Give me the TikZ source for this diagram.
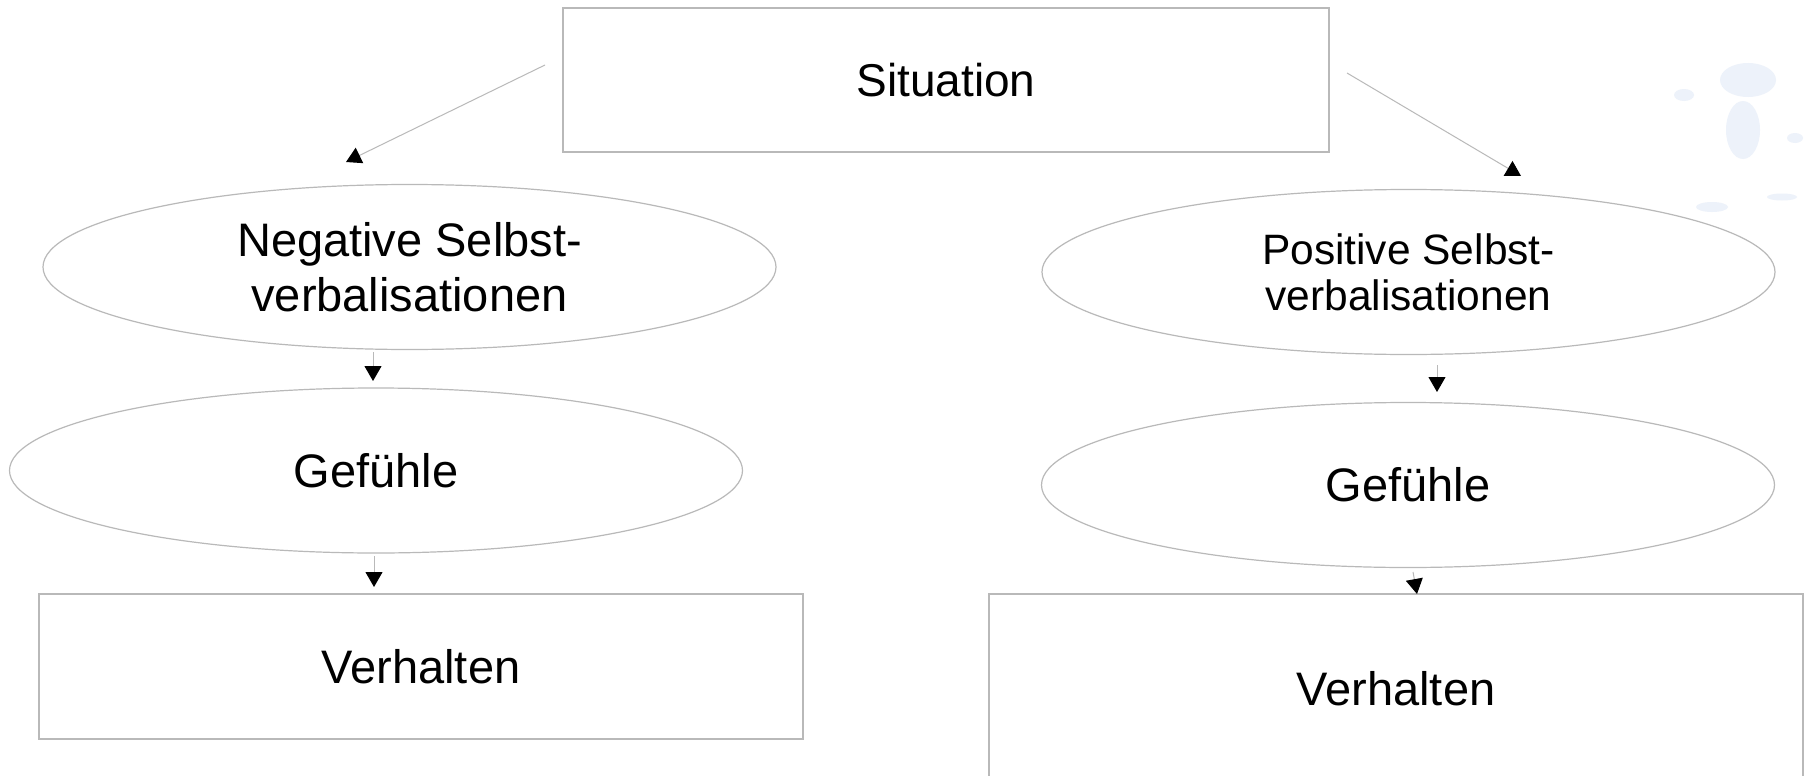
\documentclass[tikz,border=0pt]{standalone}
\usepackage{fontspec}
\setmainfont{Liberation Sans}
\usetikzlibrary{shapes.geometric,arrows.meta}
\definecolor{outl}{RGB}{185,185,185}
\definecolor{blob}{RGB}{237,242,250}
\begin{document}
\begin{tikzpicture}[x=1pt,y=-1pt,
  boxnode/.style={draw=outl,line width=1.2pt,rectangle,inner sep=0pt,font=\fontsize{47}{55}\selectfont},
  ellnode/.style={draw=outl,line width=1.2pt,ellipse,inner sep=0pt,align=center,minimum width=733pt,minimum height=165pt,font=\fontsize{47}{55}\selectfont},
  conn/.style={draw=outl,line width=1pt,-{Triangle[length=15pt,width=17pt,color=black]}}]
\useasboundingbox (0,0) rectangle (1810,776);
\fill[white] (0,0) rectangle (1810,776);
% decorative blobs
\fill[blob] (1748,80) ellipse [x radius=28, y radius=17];
\fill[blob] (1684,95) ellipse [x radius=10, y radius=6];
\fill[blob] (1743,130) ellipse [x radius=17, y radius=29];
\fill[blob] (1795,138) ellipse [x radius=8, y radius=5];
\fill[blob] (1782,197) ellipse [x radius=15, y radius=3.5];
\fill[blob] (1712,207) ellipse [x radius=16, y radius=5];
% nodes
\node[boxnode,minimum width=766pt,minimum height=144pt,font=\fontsize{46}{54}\selectfont] (sit) at (946,80) {Situation};
\node[ellnode] (neg) at (409.5,267) {Negative Selbst-\\verbalisationen};
\node[ellnode] (gefl) at (376,470.5) {Gefühle};
\node[boxnode,minimum width=764pt,minimum height=145pt] (verl) at (421,666.5) {Verhalten};
\node[ellnode,font=\fontsize{42.5}{46}\selectfont] (pos) at (1408.5,272) {Positive Selbst-\\verbalisationen};
\node[ellnode] (gefr) at (1408,485) {Gefühle};
\node[boxnode,minimum width=814pt,minimum height=190pt] (verr) at (1396,689) {Verhalten};
% connector end points
\coordinate (a1s) at (545,65);   \coordinate (a1e) at (346,162);
\coordinate (a2s) at (1347,73);  \coordinate (a2e) at (1521,176);
\coordinate (a3s) at (373,352);  \coordinate (a3e) at (373,381);
\coordinate (a4s) at (374,556);  \coordinate (a4e) at (374,587);
\coordinate (a5s) at (1437,365); \coordinate (a5e) at (1437,392);
\coordinate (a6s) at (1413,572); \coordinate (a6e) at (1417,594);
\draw[conn] (a1s) -- (a1e);
\draw[conn] (a2s) -- (a2e);
\draw[conn] (a3s) -- (a3e);
\draw[conn] (a4s) -- (a4e);
\draw[conn] (a5s) -- (a5e);
\draw[conn] (a6s) -- (a6e);
\end{tikzpicture}
\end{document}
